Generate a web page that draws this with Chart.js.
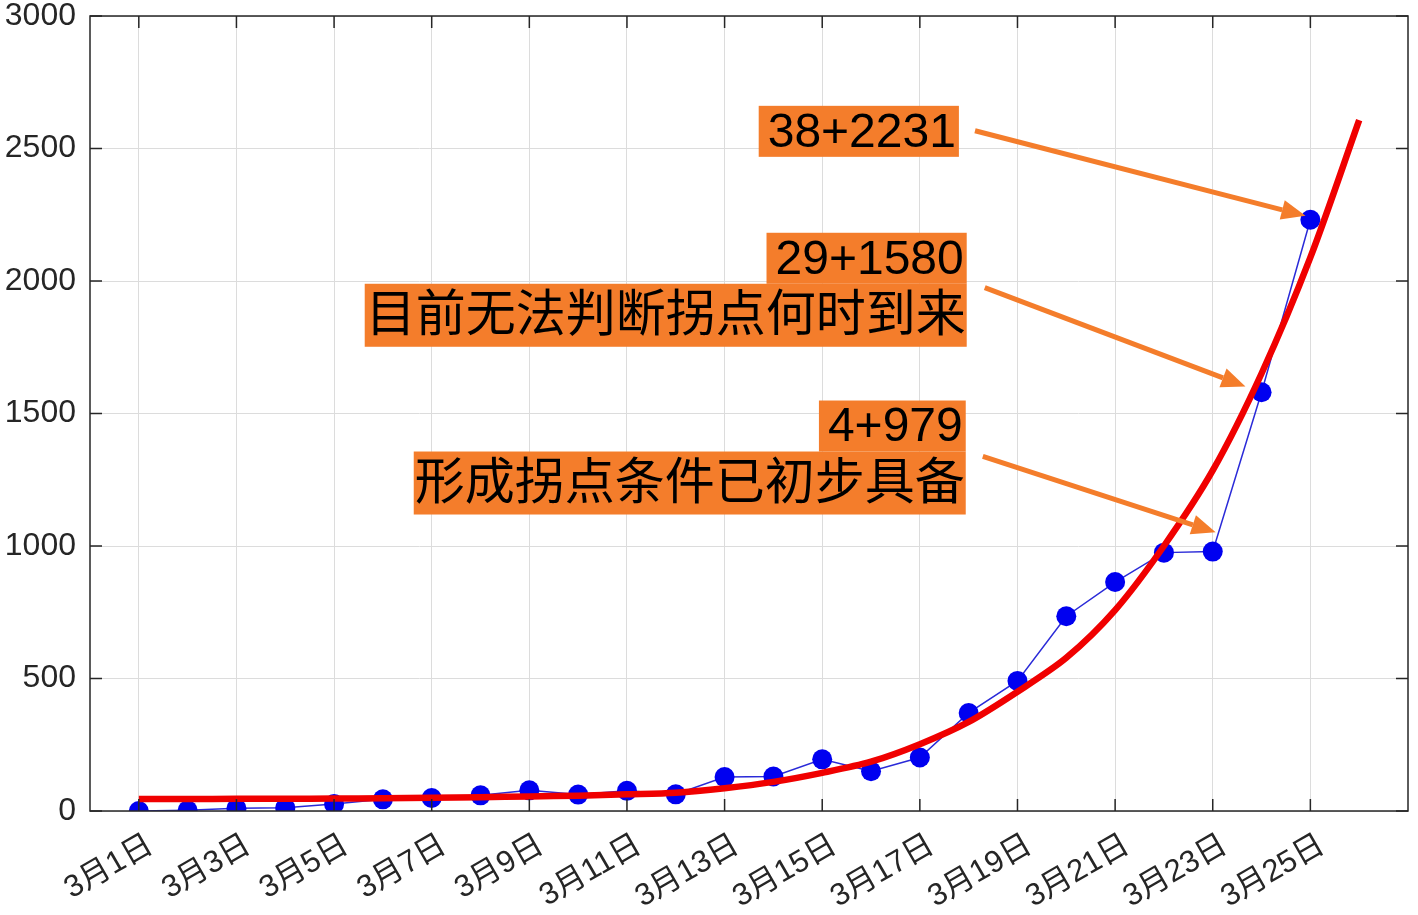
<!DOCTYPE html>
<html lang="zh">
<head>
<meta charset="UTF-8">
<title>确诊人数曲线</title>
<script src="https://cdn.jsdelivr.net/npm/chart.js"></script>
<style>
  body{margin:0;background:#fff}
  #wrap{width:1418px;height:915px;position:relative}
</style>
</head>
<body>
<div id="wrap"><canvas id="chart"></canvas></div>
<script>
// 日期（3月第几天）
const days=[1,2,3,4,5,6,7,8,9,10,11,12,13,14,15,16,17,18,19,20,21,22,23,24,25];
// 累计人数（蓝点）
const cases=[0,3,10,12,26,44,49,59,78,62,76,63,128,130,195,150,202,370,491,735,864,975,979,1580,2231];
// 拟合曲线（红线）
const fitDays=[1,2,3,4,5,6,7,8,9,10,11,12,13,14,15,16,17,18,19,20,21,22,23,24,25,26];
const fitVals=[45,45,46,46,47,48,50,52,55,58,63,69,86,110,144,186,252,336,450,578,758,1000,1285,1651,2089,2607];
// 刻度
const xTicks=[1,3,5,7,9,11,13,15,17,19,21,23,25];
const xTickLabels=['3月1日','3月3日','3月5日','3月7日','3月9日','3月11日','3月13日','3月15日','3月17日','3月19日','3月21日','3月23日','3月25日'];
const yTicks=[0,500,1000,1500,2000,2500,3000];
// 标注
const noteLines=[['38+2231'],['29+1580','目前无法判断拐点何时到来'],['4+979','形成拐点条件已初步具备']];
const noteRight=[17.8,17.96,17.94];
const noteTop=[2661,2182,1549];
const arrowTail=[{x:18.13,y:2567},{x:18.33,y:1975},{x:18.29,y:1338}];
const arrowTip=[{x:24.9,y:2246},{x:23.67,y:1602},{x:23.06,y:1052}];

const ORANGE='#f47d2b';
const FONT='"Liberation Sans","Noto Sans CJK SC",Arial,sans-serif';

const framePlugin={
  id:'frame',
  afterDraw(c){
    const {ctx,chartArea:a,scales:{x,y}}=c;
    ctx.save();
    ctx.strokeStyle='#262626';
    ctx.lineWidth=1.5;
    ctx.strokeRect(a.left,a.top,a.right-a.left,a.bottom-a.top);
    ctx.beginPath();
    xTicks.forEach(v=>{
      const px=x.getPixelForValue(v);
      ctx.moveTo(px,a.bottom);ctx.lineTo(px,a.bottom-12);
      ctx.moveTo(px,a.top);ctx.lineTo(px,a.top+12);
    });
    yTicks.forEach(v=>{
      const py=y.getPixelForValue(v);
      ctx.moveTo(a.left,py);ctx.lineTo(a.left+12,py);
      ctx.moveTo(a.right,py);ctx.lineTo(a.right-12,py);
    });
    ctx.stroke();

    // 标注框与箭头
    noteLines.forEach((lines,i)=>{
      const right=x.getPixelForValue(noteRight[i]);
      let top=y.getPixelForValue(noteTop[i]);
      lines.forEach(t=>{
        const cjk=/[\u4e00-\u9fff]/.test(t);
        const size=cjk?50:48;
        const h=cjk?63:51;
        ctx.font=size+'px '+FONT;
        const w=ctx.measureText(t).width+(cjk?2:12);
        ctx.fillStyle=ORANGE;
        ctx.fillRect(right-w,top,w,h);
        ctx.fillStyle='#000';
        ctx.textAlign='right';
        ctx.textBaseline='middle';
        ctx.fillText(t,right-(cjk?1:3),top+h/2+2);
        top+=h;
      });
      const x0=x.getPixelForValue(arrowTail[i].x),y0=y.getPixelForValue(arrowTail[i].y);
      const x1=x.getPixelForValue(arrowTip[i].x),y1=y.getPixelForValue(arrowTip[i].y);
      const ang=Math.atan2(y1-y0,x1-x0);
      const hl=24,hw=10;
      const bx=x1-hl*Math.cos(ang),by=y1-hl*Math.sin(ang);
      ctx.strokeStyle=ORANGE;
      ctx.lineWidth=5;
      ctx.beginPath();ctx.moveTo(x0,y0);ctx.lineTo(bx,by);ctx.stroke();
      ctx.fillStyle=ORANGE;
      ctx.beginPath();
      ctx.moveTo(x1,y1);
      ctx.lineTo(bx+hw*Math.sin(ang),by-hw*Math.cos(ang));
      ctx.lineTo(bx-hw*Math.sin(ang),by+hw*Math.cos(ang));
      ctx.closePath();ctx.fill();
    });
    ctx.restore();
  }
};

new Chart(document.getElementById('chart'),{
  type:'line',
  data:{datasets:[
    {label:'拟合',data:fitDays.map((d,i)=>({x:d,y:fitVals[i]})),borderColor:'#f00000',borderWidth:6.5,pointRadius:0,tension:0.3,order:0},
    {label:'累计',data:days.map((d,i)=>({x:d,y:cases[i]})),borderColor:'#2a2ad8',borderWidth:1.5,pointRadius:10,pointBackgroundColor:'#0000f0',pointBorderWidth:0,tension:0,order:1}
  ]},
  options:{
    responsive:true,maintainAspectRatio:false,animation:false,
    layout:{padding:{top:16,right:-4,left:0,bottom:0}},
    plugins:{legend:{display:false},tooltip:{enabled:false}},
    scales:{
      x:{type:'linear',min:0,max:27,
        afterBuildTicks:s=>{s.ticks=xTicks.map(v=>({value:v}));},
        afterFit:s=>{s.height=104;s.paddingLeft=0;s.paddingRight=0;},
        grid:{color:'#dcdcdc',lineWidth:1,drawTicks:false},
        border:{display:false},
        ticks:{autoSkip:false,minRotation:30,maxRotation:30,padding:16,labelOffset:12,color:'#262626',
          font:{size:31,family:FONT},callback:(v,i)=>xTickLabels[i]}},
      y:{min:0,max:3000,
        afterBuildTicks:s=>{s.ticks=yTicks.map(v=>({value:v}));},
        afterFit:s=>{s.width=90;s.paddingTop=0;s.paddingBottom=0;},
        grid:{color:'#dcdcdc',lineWidth:1,drawTicks:false},
        border:{display:false},
        ticks:{padding:14,color:'#262626',font:{size:32,family:FONT},callback:v=>String(v)}}
    }
  },
  plugins:[framePlugin]
});
</script>
</body>
</html>
